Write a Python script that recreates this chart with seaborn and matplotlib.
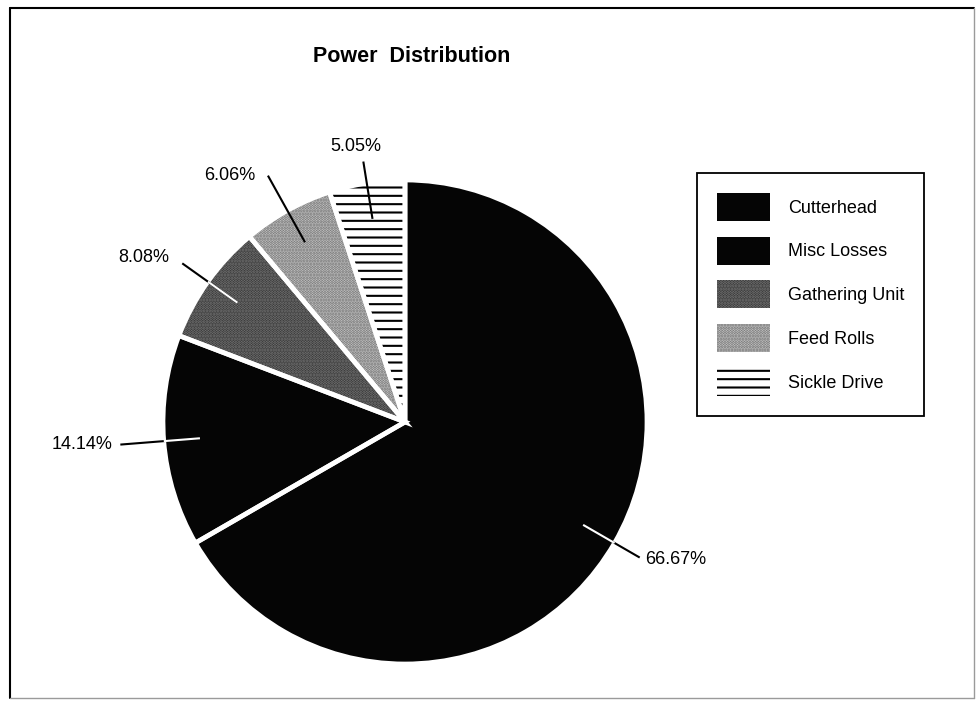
import numpy as np
import matplotlib
matplotlib.use("Agg")
import matplotlib.pyplot as plt
from matplotlib.lines import Line2D
import seaborn as sns

# Power shares per component (percent)
categories = ["Cutterhead", "Misc Losses", "Gathering Unit", "Feed Rolls", "Sickle Drive"]
shares = [66.67, 14.14, 8.08, 6.06, 5.05]
pct_labels = ["66.67%", "14.14%", "8.08%", "6.06%", "5.05%"]

sns.set_theme(style="white")
plt.rcParams["font.family"] = ["Liberation Sans", "DejaVu Sans"]
plt.rcParams["hatch.linewidth"] = 1.5

W, H = 979, 703
fig = plt.figure(figsize=(W / 100, H / 100), dpi=100)
ax = fig.add_axes([0, 0, 1, 1])

cx, cy, R = 405, H - 422, 242

fills = ["#050505", "#050505", "#2a2a2a", "#d2d2d2", "white"]
hatch_cols = ["#050505", "#050505", "#7c7c7c", "#6a6a6a", "black"]
hatches = [None, None, "......", "......", "--"]

wedges, _ = ax.pie(shares, startangle=90, counterclock=False,
                   center=(cx, cy), radius=R, colors=fills,
                   wedgeprops=dict(linewidth=0))
for w, hc, ht in zip(wedges, hatch_cols, hatches):
    w.set_edgecolor(hc)
    w.set_linewidth(0)
    if ht:
        w.set_hatch(ht)

# white separators between slices
sep, _ = ax.pie(shares, startangle=90, counterclock=False,
                center=(cx, cy), radius=R, colors=["none"] * len(shares),
                wedgeprops=dict(linewidth=3.4, edgecolor="white", facecolor="none"))

ax.set_xlim(0, W)
ax.set_ylim(0, H)
ax.set_aspect("equal")
ax.axis("off")

# leader lines and percentage labels
inner = 0.85
outer = [1.12, 1.18, 1.13, 1.165, 1.09]
offsets = [(5, -2), (-8, 0), (-13, 6), (-13, 0), (-8, 15)]
aligns = [("left", "center"), ("right", "center"), ("right", "center"),
          ("right", "center"), ("center", "center")]
dark = [True, True, True, False, False]

for i, w in enumerate(wedges):
    mid = np.deg2rad((w.theta1 + w.theta2) / 2)
    x0, y0 = cx + inner * R * np.cos(mid), cy + inner * R * np.sin(mid)
    x1, y1 = cx + outer[i] * R * np.cos(mid), cy + outer[i] * R * np.sin(mid)
    ax.plot([x0, x1], [y0, y1], color="black", lw=1.5, solid_capstyle="butt")
    if dark[i]:
        wl = Line2D([x0, x1], [y0, y1], color="white", lw=1.5, solid_capstyle="butt")
        ax.add_line(wl)
        wl.set_clip_path(w)
    ha, va = aligns[i]
    ax.text(x1 + offsets[i][0], y1 + offsets[i][1], pct_labels[i],
            ha=ha, va=va, fontsize=13, color="black")

leg = ax.legend(wedges, categories, loc="upper left",
                bbox_to_anchor=(697 / W, 1 - 173 / H), bbox_transform=fig.transFigure,
                fontsize=13, handlelength=2.93, handleheight=2.0,
                labelspacing=0.88, handletextpad=1.0, borderpad=1.1,
                borderaxespad=0, frameon=True, fancybox=False, framealpha=1,
                edgecolor="black", labelcolor="black")
leg.get_frame().set_linewidth(1.3)

fig.text(412 / W, 1 - 57 / H, "Power  Distribution", ha="center", va="center",
         fontsize=15.5, fontweight="bold", color="black")

# page frame
fig.add_artist(Line2D([10 / W, 10 / W], [1 - 8 / H, 1 - 698 / H], transform=fig.transFigure,
                      color="black", lw=1.5))
fig.add_artist(Line2D([10 / W, 974 / W], [1 - 8 / H, 1 - 8 / H], transform=fig.transFigure,
                      color="black", lw=1.5))
fig.add_artist(Line2D([974 / W, 974 / W], [1 - 8 / H, 1 - 698 / H], transform=fig.transFigure,
                      color="#9a9a9a", lw=1.0))
fig.add_artist(Line2D([10 / W, 974 / W], [1 - 698 / H, 1 - 698 / H], transform=fig.transFigure,
                      color="#9a9a9a", lw=1.0))

fig.savefig("out.png", dpi=100, facecolor="white")
